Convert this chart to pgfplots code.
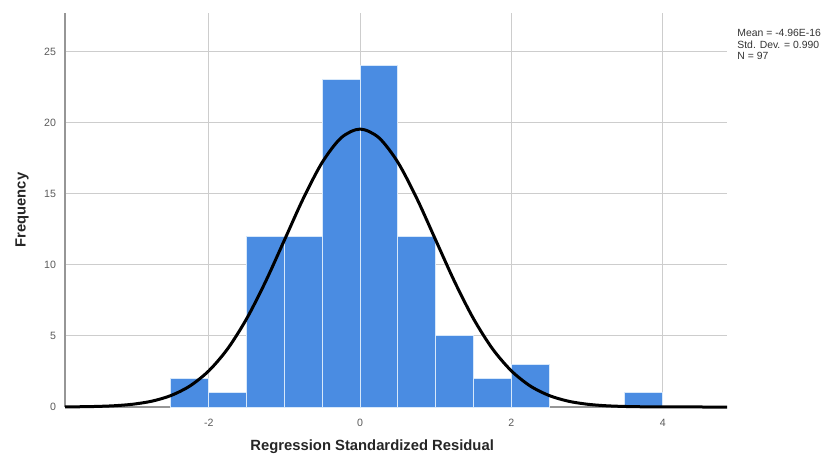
\documentclass[border=0pt]{standalone}
\usepackage{pgfplots}
\pgfplotsset{compat=1.18}
\usepackage{fontspec}
\setmainfont{Liberation Sans}
\definecolor{barblue}{RGB}{74,140,226}
\definecolor{barsep}{RGB}{215,232,250}
\definecolor{gridgray}{RGB}{205,205,205}
\definecolor{axgray}{RGB}{150,150,150}
\definecolor{ticktext}{RGB}{90,90,90}
\begin{document}
\begin{tikzpicture}
\path[use as bounding box] (-32.5pt,-25pt) rectangle (386.5pt,203.5pt);
\begin{axis}[
  at={(0,0)}, anchor=south west,
  scale only axis, width=331pt, height=197pt,
  xmin=-3.9, xmax=4.85, ymin=0, ymax=27.7,
  axis x line=bottom, axis y line=left,
  axis line style={axgray, line width=0.6pt, -},
  xtick={-2,0,2,4}, ytick={0,5,10,15,20,25},
  major tick length=0pt,
  grid=major, major grid style={gridgray, line width=0.5pt},
  tick label style={font=\fontsize{5.3}{6}\selectfont, text=ticktext},
  /pgf/number format/assume math mode=true,
  xticklabel style={yshift=-2.5pt},
  yticklabel style={xshift=-1pt},
  xlabel={Regression Standardized Residual},
  ylabel={Frequency},
  label style={font=\bfseries\fontsize{7.4}{8}\selectfont, text=black!85},
  xlabel style={at={(axis description cs:0.464,-0.1015)}, anchor=center},
  ylabel style={at={(axis description cs:-0.065,0.5)}, anchor=center},
  clip=false,
]
\addplot[ybar interval, fill=barblue, draw=barsep, line width=0.5pt] coordinates {
  (-2.5,2) (-2.0,1) (-1.5,12) (-1.0,12) (-0.5,23) (0.0,24) (0.5,12) (1.0,5) (1.5,2) (2.0,3) (2.5,3)
};
\addplot[ybar interval, fill=barblue, draw=barsep, line width=0.5pt] coordinates {
  (3.5,1) (4.0,1)
};
\addplot[black, line width=1.5pt, smooth, no marks] coordinates {
  (-3.9,0.008) (-3.75,0.015) (-3.5,0.038) (-3.25,0.089) (-3.0,0.198) (-2.75,0.412)
  (-2.5,0.806) (-2.25,1.476) (-2.0,2.540) (-1.75,4.095) (-1.5,6.200) (-1.25,8.805)
  (-1.0,11.732) (-0.75,14.665) (-0.5,17.201) (-0.25,18.926) (0.0,19.54)
  (0.25,18.926) (0.5,17.201) (0.75,14.665) (1.0,11.732) (1.25,8.805) (1.5,6.200)
  (1.75,4.095) (2.0,2.540) (2.25,1.476) (2.5,0.806) (2.75,0.412) (3.0,0.198)
  (3.25,0.089) (3.5,0.038) (3.75,0.015) (4.0,0.006) (4.25,0.002) (4.5,0.001) (4.85,0.0)
};
\node[anchor=north west, align=left, inner sep=0pt, font=\fontsize{5.2}{5.8}\selectfont, text=black!80]
  at (rel axis cs:1,0.96) [xshift=5pt] {Mean = -4.96E-16\\Std. Dev. = 0.990\\N = 97};
\end{axis}
\end{tikzpicture}
\end{document}
